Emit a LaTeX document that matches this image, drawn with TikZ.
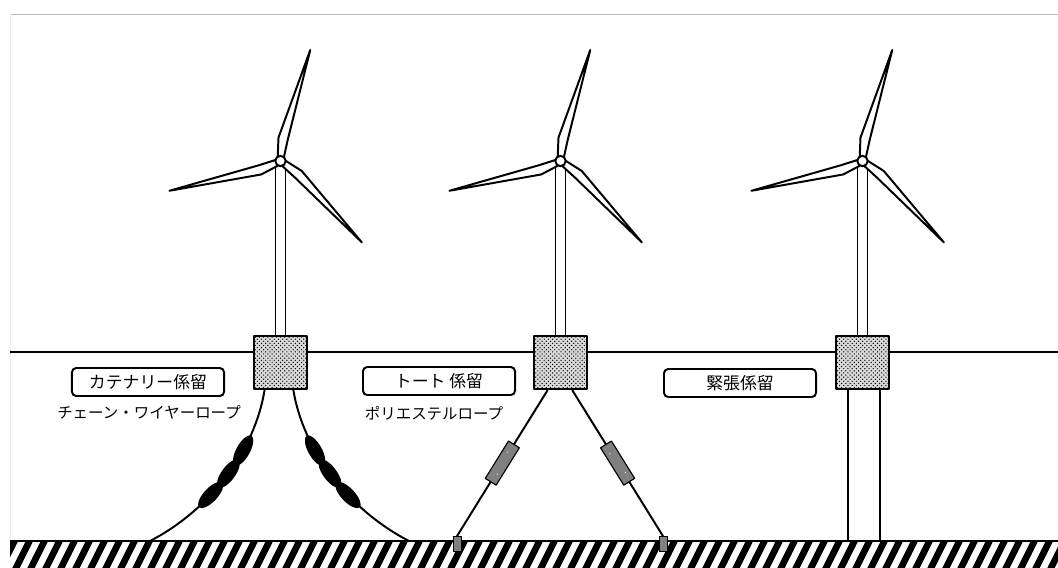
\documentclass[tikz,border=0pt]{standalone}
\usepackage{fontspec}
\setmainfont{Noto Sans CJK JP}
\usetikzlibrary{patterns,shapes.geometric}

\begin{document}
\begin{tikzpicture}[x=0.025cm,y=-0.025cm,line join=round,
	schild/.style={draw,rounded corners=3pt,line width=1.4pt,minimum width=3.8cm,minimum height=0.7cm,inner sep=0pt,font=\fontsize{12}{14}\selectfont},
	unter/.style={inner sep=0pt,font=\fontsize{11}{13}\selectfont},
	boje/.style={draw,line width=1.5pt,minimum size=1.325cm,inner sep=0pt,preaction={fill=gray!30},pattern=crosshatch dots},
	gewicht/.style={ellipse,fill=black,minimum width=0.85cm,minimum height=0.34cm,inner sep=0pt},
	seil/.style={draw,line width=0.8pt,fill=gray,minimum width=1.1cm,minimum height=0.32cm,inner sep=0pt,
		path picture={\fill[white] (path picture bounding box.center) ++(0.3cm,0.04cm) circle (0.45pt) (path picture bounding box.center) ++(-0.3cm,-0.04cm) circle (0.45pt);}},
	anker/.style={draw,line width=0.6pt,fill=gray,minimum width=0.2cm,minimum height=0.375cm,inner sep=0pt}]
	\useasboundingbox (0,0) rectangle (1058,567);
	%\draw[step=50,gray!15] (0,0) grid (1058,567); %Hilfsgitter
	\draw[gray!55,line width=0.7pt] (10,14) -- (1058,14); \draw[gray!15,line width=0.7pt] (10,14) -- (10,541);
	\draw[line width=1.6pt] (10,352) -- (1058,352); %Wasserlinie
	
	%Meeresboden
	\begin{scope}
		\clip (10,541) rectangle (1058,567);
		\foreach \s in {0,15,...,1080} \draw[line width=4.7pt] (\s,570) -- (\s+16,538);
	\end{scope}
	\draw[line width=1.6pt] (10,541) -- (1058,541);
	\coordinate (G) at (0,541); \coordinate (G1) at (150,541); \coordinate (G2) at (409,541);
	\node[anker] (A1) at (457,544) {}; \node[anker] (A2) at (663,544) {};
	
	%Windraeder
	\foreach \x/\n in {280.5/1,560.5/2,862.5/3}{
		\draw[line width=1.4pt] (\x-5,161) rectangle (\x+5,336);
		\coordinate (H\n) at (\x,161);
		\foreach \w in {75,195,315} \draw[line width=1.4pt,fill=white,shift={(H\n)},rotate=\w] (0,-3) -- (22,-8) -- (115,0) -- (22,1.5) -- (0,2.5) -- cycle;
		\node[draw,circle,line width=1.4pt,fill=white,minimum size=0.26cm,inner sep=0pt] (N\n) at (H\n) {};
		\node[boje] (F\n) at (\x,362.5) {};
	}
	
	%Verankerungen
	\draw[line width=1.4pt] (F1.240) .. controls +(-10,61) and +(60,-31) .. node[pos=.34,sloped,gewicht]{} node[pos=.48,sloped,gewicht]{} node[pos=.62,sloped,gewicht]{} (G1);
	\draw[line width=1.4pt] (F1.295) .. controls +(10,61) and +(-60,-31) .. node[pos=.34,sloped,gewicht]{} node[pos=.48,sloped,gewicht]{} node[pos=.62,sloped,gewicht]{} (G2);
	\draw[line width=1.4pt] (F2.245) -- node[sloped,seil]{} (A1.north); \draw[line width=1.4pt] (F2.293) -- node[sloped,seil]{} (A2.north);
	\draw[line width=1.4pt] (F3.243) -- (F3.243 |- G); \draw[line width=1.4pt] (F3.303) -- (F3.303 |- G);
	
	\node[schild] (L1) at (148,382) {カテナリー係留}; \node[unter] (U1) at (149,412) {チェーン・ワイヤーロープ};
	\node[schild] (L2) at (439,381) {トート 係留}; \node[unter] (U2) at (434,413) {ポリエステルロープ};
	\node[schild] (L3) at (740,383) {緊張係留};
\end{tikzpicture}
\end{document}
